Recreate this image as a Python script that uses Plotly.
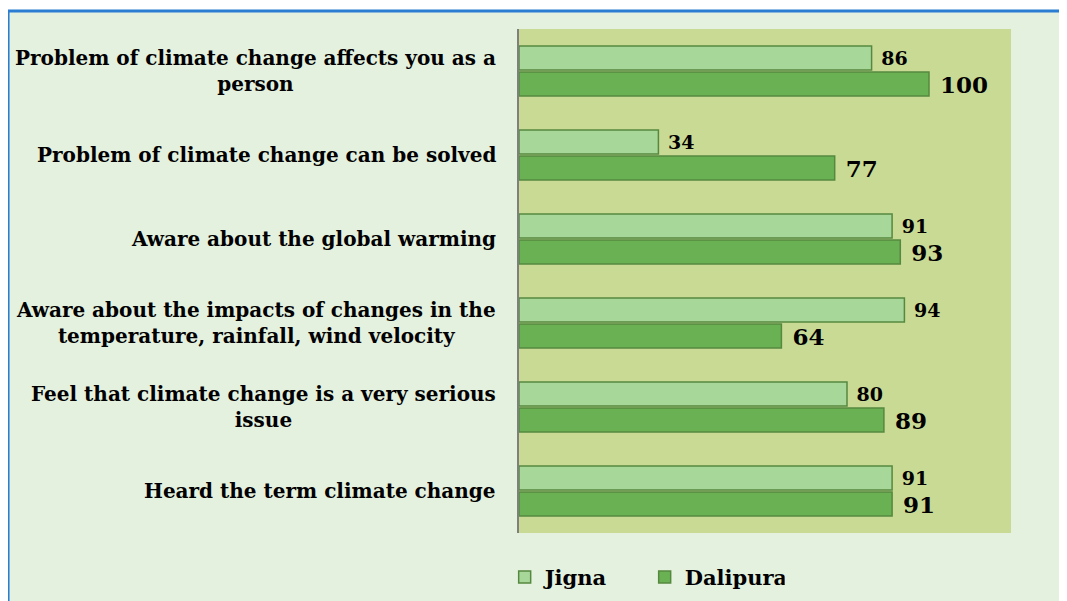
import plotly.graph_objects as go

# survey statements, top to bottom
statements = [
    "Problem of climate change affects you as a<br>person",
    "Problem of climate change can be solved",
    "Aware about the global warming",
    "Aware about the impacts of changes in the<br>temperature, rainfall, wind velocity",
    "Feel that climate change is a very serious<br>issue",
    "Heard the term climate change",
]
cats = ["s1", "s2", "s3", "s4", "s5", "s6"]

jigna = [86, 34, 91, 94, 80, 91]
dalipura = [100, 77, 93, 64, 89, 91]

serif = "DejaVu Serif"
outline = "#55893f"

fig = go.Figure()
fig.add_trace(go.Bar(name="Jigna", y=cats, x=jigna, orientation="h",
                     marker=dict(color="#a8d79a", line=dict(color=outline, width=1.5)),
                     text=jigna, texttemplate="\u00a0%{text}", textposition="outside",
                     constraintext="none", cliponaxis=False,
                     textfont=dict(family=serif, size=19, color="black", weight="bold")))
fig.add_trace(go.Bar(name="Dalipura", y=cats, x=dalipura, orientation="h",
                     marker=dict(color="#6ab153", line=dict(color=outline, width=1.5)),
                     text=dalipura, texttemplate="\u00a0%{text}", textposition="outside",
                     constraintext="none", cliponaxis=False,
                     textfont=dict(family=serif, size=23, color="black", weight="bold")))

# category labels, centred lines like the original
for c, s in zip(cats, statements):
    fig.add_annotation(x=0, y=c, xref="paper", yref="y", text=s, showarrow=False,
                       xanchor="right", align="center", xshift=-21,
                       font=dict(family=serif, size=20, color="black", weight="bold"))

# white strip and blue frame on left / top
fig.add_shape(type="rect", xref="paper", yref="paper", x0=-1.2, x1=1.2, y0=1.038, y1=1.2,
              fillcolor="white", line=dict(width=0), layer="above")
fig.add_shape(type="line", xref="paper", yref="paper", x0=-1.04, x1=1.2, y0=1.0357, y1=1.0357,
              line=dict(color="#2b7cd3", width=3))
fig.add_shape(type="line", xref="paper", yref="paper", x0=-1.0385, x1=-1.0385, y0=-0.3, y1=1.0357,
              line=dict(color="#2b7cd3", width=3))

fig.update_layout(
    width=1059, height=593,
    margin=dict(l=511, r=56, t=21, b=68, autoexpand=False),
    paper_bgcolor="#e4f1df", plot_bgcolor="#c9da95",
    barmode="group", bargap=0.38, bargroupgap=0.08,
    showlegend=True,
    legend=dict(orientation="h", xref="container", yref="container",
                x=0.469, y=0.04, xanchor="left", yanchor="middle",
                font=dict(family=serif, size=21, color="black", weight="bold"),
                itemwidth=30, entrywidth=95, bgcolor="rgba(0,0,0,0)"),
)
fig.update_xaxes(range=[0, 120], showticklabels=False, showgrid=False, zeroline=False, ticks="")
fig.update_yaxes(autorange="reversed", showticklabels=False, showgrid=False, ticks="",
                 showline=True, linecolor="#7f7f7f", linewidth=1.5)

fig.write_html("out.html")
